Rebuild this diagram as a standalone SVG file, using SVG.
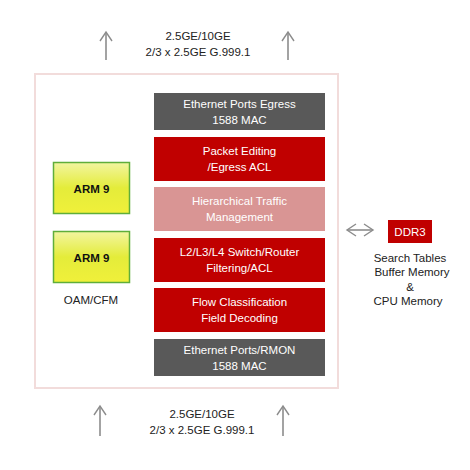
<svg xmlns="http://www.w3.org/2000/svg" width="470" height="470" viewBox="0 0 470 470">
<style>
text{font-family:"Liberation Sans",Arial,sans-serif;font-size:11.5px;text-anchor:middle}
.w{fill:#ffffff}
.k{fill:#222222}
.blk text{fill:#fff}
.arr{stroke:#8c8c8c;stroke-width:1.6;fill:none}
</style>
<defs>
<linearGradient id="yg" x1="0" y1="0" x2="0" y2="1">
<stop offset="0" stop-color="#f2f5a0"/>
<stop offset="0.5" stop-color="#e4ec3a"/>
<stop offset="1" stop-color="#f0f03a"/>
</linearGradient>
<marker id="ah" viewBox="0 0 14 14" refX="12" refY="7" markerWidth="14" markerHeight="14" markerUnits="userSpaceOnUse" orient="auto-start-reverse">
<polyline points="3,1 12,7 3,13" fill="none" stroke="#8c8c8c" stroke-width="1.4"/>
</marker>
</defs>
<rect width="470" height="470" fill="#ffffff"/>
<rect id="chip" x="35" y="74" width="303" height="314" fill="#ffffff" stroke="#f2dcdb" stroke-width="2"/>
<g id="connectors">
<line class="arr" x1="106" y1="60" x2="106" y2="32" marker-end="url(#ah)"/>
<line class="arr" x1="288" y1="60" x2="288" y2="32" marker-end="url(#ah)"/>
<line class="arr" x1="100" y1="436" x2="100" y2="406" marker-end="url(#ah)"/>
<line class="arr" x1="283" y1="436" x2="283" y2="406" marker-end="url(#ah)"/>
<line class="arr" x1="347" y1="230" x2="373" y2="230" stroke-width="1.2" marker-start="url(#ah)" marker-end="url(#ah)"/>
</g>
<g id="top-label"><text x="198" y="40" class="k">2.5GE/10GE</text><text x="198" y="56" class="k">2/3 x 2.5GE G.999.1</text></g>
<g id="bottom-label"><text x="202" y="418" class="k">2.5GE/10GE</text><text x="202" y="434" class="k">2/3 x 2.5GE G.999.1</text></g>
<g id="egress" class="blk"><rect x="154" y="93" width="171" height="37" fill="#595959"/><text x="239.5" y="108">Ethernet Ports Egress</text><text x="239.5" y="124">1588 MAC</text></g>
<g id="packet-editing" class="blk"><rect x="154" y="137" width="171" height="44" fill="#c00000"/><text x="239.5" y="155">Packet Editing</text><text x="239.5" y="171">/Egress ACL</text></g>
<g id="traffic-mgmt" class="blk"><rect x="154" y="187" width="171" height="44" fill="#d99594"/><text x="239.5" y="205" fill="#fbeaea">Hierarchical Traffic</text><text x="239.5" y="221">Management</text></g>
<g id="switch" class="blk"><rect x="154" y="238" width="171" height="44" fill="#c00000"/><text x="239.5" y="256">L2/L3/L4 Switch/Router</text><text x="239.5" y="272">Filtering/ACL</text></g>
<g id="flow" class="blk"><rect x="154" y="288" width="171" height="44" fill="#c00000"/><text x="239.5" y="306">Flow Classification</text><text x="239.5" y="322">Field Decoding</text></g>
<g id="rmon" class="blk"><rect x="154" y="339" width="171" height="37" fill="#595959"/><text x="239.5" y="354">Ethernet Ports/RMON</text><text x="239.5" y="370">1588 MAC</text></g>
<g id="arm1"><rect x="53.5" y="162.5" width="76" height="51" fill="url(#yg)" stroke="#5fae3a" stroke-width="1.5"/><text x="91.5" y="193" font-weight="bold" font-size="14" fill="#111">ARM 9</text></g>
<g id="arm2"><rect x="53.5" y="231.5" width="76" height="51" fill="url(#yg)" stroke="#5fae3a" stroke-width="1.5"/><text x="91.5" y="262" font-weight="bold" font-size="14" fill="#111">ARM 9</text></g>
<text id="oam" x="91" y="304" class="k">OAM/CFM</text>
<g id="ddr3"><rect x="388" y="220" width="44" height="23" fill="#c00000"/><text x="410" y="235.5" class="w">DDR3</text></g>
<g id="ddr3-label" class="k"><text x="410" y="262" font-size="10.5">Search Tables</text><text x="412" y="276" font-size="10.5">Buffer Memory</text><text x="410" y="291" font-size="10.5">&amp;</text><text x="408" y="305" font-size="10.5">CPU Memory</text></g>
</svg>
